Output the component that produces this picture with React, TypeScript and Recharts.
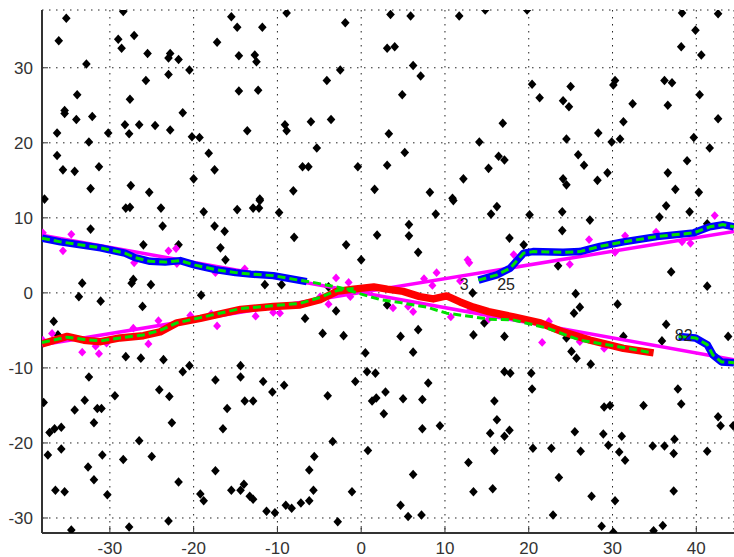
import React from "react";
import { CartesianGrid, Scatter, ScatterChart, Text, XAxis, YAxis } from "recharts";

type Pt = [number, number];

const xTicks = [-30, -20, -10, 0, 10, 20, 30, 40];
const yTicks = [-30, -20, -10, 0, 10, 20, 30];

// black clutter points
const clutter: Pt[] = [
  [-35.2, 36.6], [-36.1, 33.6], [-32.8, 30.5], [-33.9, 26.4], [-35.4, 24.3], [-35.4, 23.9], [-34.0, 23.1], [-32.1, 23.5],
  [-36.3, 21.3], [-32.5, 20.1], [-36.3, 18.3], [-35.6, 16.4], [-34.2, 16.2], [-31.3, 16.8], [-32.3, 13.9], [-37.8, 12.5],
  [-28.4, 37.5], [-29.0, 33.8], [-28.6, 32.6], [-27.1, 34.3], [-25.5, 31.9], [-23.0, 31.3], [-22.8, 31.9], [-21.8, 31.1],
  [-23.0, 29.1], [-25.7, 28.3], [-20.5, 29.7], [-27.6, 25.8], [-21.3, 24.0], [-28.2, 22.4], [-27.7, 21.2], [-26.5, 22.4],
  [-24.6, 22.3], [-22.8, 21.7], [-30.2, 21.3], [-20.2, 20.8], [-19.3, 20.7], [-27.5, 14.3], [-25.3, 13.4], [-20.0, 15.2],
  [-18.2, 18.6], [-17.5, 16.4], [-17.2, 33.4], [-15.5, 36.8], [-14.8, 35.4], [-14.6, 31.6], [-14.6, 26.9], [-13.6, 21.6],
  [-11.8, 35.4], [-12.7, 31.7], [-12.5, 30.8], [-12.3, 27.0], [-8.9, 37.3], [-1.9, 36.0], [-2.5, 29.7], [-4.1, 28.3],
  [-9.1, 22.4], [-8.9, 21.6], [-6.0, 22.8], [-3.6, 23.1], [-5.3, 19.3], [-7.0, 16.8], [-6.3, 16.8], [-0.4, 16.8],
  [-8.1, 13.6], [-12.1, 12.5], [3.5, 37.1], [5.9, 36.9], [3.1, 32.6], [4.0, 32.8], [6.2, 30.3], [7.1, 28.9],
  [4.9, 26.4], [3.3, 21.2], [5.2, 18.7], [3.1, 17.0], [1.6, 13.8], [8.2, 13.4], [11.7, 36.9], [14.8, 37.7],
  [14.1, 20.1], [15.2, 16.6], [12.2, 15.2], [10.9, 12.6], [19.8, 37.7], [38.3, 37.3], [42.6, 37.2], [39.9, 35.0],
  [38.2, 32.8], [40.6, 31.7], [20.4, 27.8], [21.3, 26.0], [25.0, 27.5], [24.1, 25.6], [24.8, 24.8], [30.3, 28.3],
  [30.1, 27.7], [36.2, 28.3], [37.1, 28.0], [32.4, 25.2], [36.6, 25.0], [40.4, 26.4], [31.3, 22.8], [42.6, 23.2],
  [16.9, 22.6], [28.3, 21.3], [24.5, 20.5], [29.9, 20.1], [30.9, 20.5], [39.7, 20.7], [41.6, 19.3], [16.4, 18.2],
  [17.1, 17.7], [25.9, 18.4], [26.6, 17.0], [24.1, 15.2], [24.5, 14.4], [28.2, 15.0], [29.4, 16.0], [36.6, 16.0],
  [38.9, 17.6], [37.5, 13.8], [40.3, 13.4],
  [-32.3, 8.5], [-28.1, 11.3], [-27.6, 11.4], [-23.9, 11.3], [-23.7, 8.9], [-18.8, 10.8], [-17.5, 8.9], [-16.3, 8.2],
  [-16.8, 6.0], [-16.2, 4.4], [-14.8, 11.1], [-26.0, 6.4], [-21.8, 6.4], [-27.2, 1.8], [-27.4, 1.3], [-25.1, 1.1],
  [-33.3, 1.3], [-33.7, -0.5], [-31.1, -1.1], [-26.1, -1.8], [-19.1, -0.3], [-36.7, -3.8], [-36.2, -5.6], [-28.1, -8.5],
  [-26.3, -8.7], [-23.6, -8.9], [-20.5, -9.7], [-21.3, -10.5], [-32.5, -11.2], [-24.1, -12.9], [-22.9, -13.8], [-29.4, -13.7],
  [-17.4, -11.6], [-14.4, -9.7], [-14.4, -11.2], [-33.0, -14.3],
  [-37.9, -14.6], [-34.2, -15.6], [-31.5, -15.4], [-31.0, -15.4], [-31.9, -17.3], [-37.2, -18.6], [-36.6, -18.1], [-35.8, -17.9],
  [-35.8, -20.8], [-37.4, -21.6], [-30.9, -21.6], [-32.6, -23.2], [-28.4, -22.2], [-26.5, -19.7], [-25.0, -21.8], [-31.9, -24.9],
  [-36.5, -26.3], [-35.4, -26.5], [-30.3, -26.9], [-21.8, -25.2], [-34.6, -31.6], [-27.7, -31.2], [-23.0, -30.4], [-22.6, -17.3],
  [-13.9, -14.4], [-16.0, -15.4], [-16.5, -18.1], [-17.4, -23.7], [-19.2, -26.8], [-18.8, -27.7], [-15.5, -26.3], [-14.4, -26.3],
  [-14.0, -25.5], [-13.3, -27.1],
  [-12.9, 11.3], [-12.2, 11.3], [-12.1, 12.3], [-9.8, 10.7], [-8.0, 7.4], [-1.8, 6.4], [0.0, 4.4], [1.9, 7.7],
  [5.7, 9.1], [5.7, 7.6], [6.8, 5.4], [8.9, 10.5], [11.0, 12.3], [-11.5, 1.1], [-9.5, 1.1], [-3.9, 0.8],
  [-6.7, -3.4], [-3.0, -2.4], [-4.6, -5.4], [-2.1, -5.7], [3.1, -1.6], [6.8, -4.9], [4.7, -5.8], [6.2, -7.9],
  [0.5, -8.0], [13.3, 0.0], [14.7, -4.0], [13.4, -5.6], [-11.7, -11.8], [-10.6, -13.2], [-9.2, -12.3], [-4.0, -13.7],
  [-0.7, -11.8], [0.7, -10.5], [1.7, -10.7], [2.9, -13.2], [1.8, -14.0], [8.0, -12.0], [5.0, -14.1],
  [-12.9, -14.4], [-3.4, -19.8], [-12.9, -27.5], [-11.3, -29.1], [-10.3, -29.3], [-9.0, -28.3], [-8.3, -28.7], [-7.2, -28.0],
  [-6.2, -27.7], [-5.7, -26.3], [-6.2, -23.6], [-5.6, -21.8], [-2.8, -30.5], [-1.1, -26.5], [0.8, -21.0], [1.3, -14.4],
  [2.7, -16.1], [7.3, -14.2], [7.3, -18.1], [9.4, -17.7], [6.2, -24.2], [4.7, -28.3], [5.6, -29.8], [7.2, -29.6],
  [12.8, -22.6], [13.4, -26.5], [15.4, -18.7],
  [20.4, -12.8], [15.9, -14.4], [16.2, -16.9], [17.1, -19.1], [17.7, -18.3], [15.9, -21.0], [15.7, -26.1], [20.5, -20.7],
  [22.7, -20.7], [25.5, -18.5], [26.2, -21.1], [23.6, -24.6], [22.9, -29.6], [27.5, -27.1], [29.0, -15.2], [29.7, -15.0],
  [28.9, -18.8], [29.5, -20.3], [31.1, -19.1], [30.8, -21.2], [31.5, -22.3], [30.3, -27.7], [28.7, -31.1], [30.1, -31.9],
  [33.7, -15.0], [37.8, -12.8], [38.2, -14.8], [34.8, -20.4], [36.2, -20.4], [37.4, -19.5], [37.3, -21.4], [37.3, -26.4],
  [36.0, -31.0], [34.9, -31.7], [42.6, -16.5], [42.9, -17.7], [41.3, -21.1], [44.4, -17.7],
  [15.5, 10.5], [16.2, 11.5], [20.1, 10.4], [24.0, 10.8], [24.0, 8.3], [27.3, 9.7], [36.4, 11.6], [35.6, 10.1],
  [39.2, 10.8], [41.3, 9.2], [17.7, 7.3], [19.4, 6.4], [23.5, 3.6], [37.0, 2.8], [41.3, 0.9], [25.6, -0.1],
  [26.1, -1.9], [25.4, -2.7], [30.6, -1.5], [17.1, -5.8], [24.5, -6.0], [25.1, -7.8], [25.7, -8.7], [27.4, -9.5],
  [31.3, -5.8], [35.9, -6.4], [36.4, -4.2], [43.8, -5.8], [17.1, -10.5], [17.8, -10.7], [20.3, -10.7],
];

// magenta detections near the tracks
const detections: Pt[] = [
  [-38.0, 8.0], [-34.6, 7.8], [-35.6, 5.6], [-27.1, 4.0], [-22.1, 5.9], [-23.0, 5.6], [-22.0, 3.9], [-17.4, 2.7], [-13.9, 3.2],
  [-38.0, -6.3], [-36.9, -5.4], [-33.3, -7.9], [-31.3, -8.1], [-31.7, -7.1], [-30.4, -6.7], [-24.2, -3.7], [-25.4, -6.8],
  [-27.2, -4.7], [-20.4, -3.0], [-17.2, -4.4], [-17.9, -2.8],
  [-3.0, 2.0], [-1.5, 1.4], [9.0, 2.7], [12.7, 4.4], [12.9, 4.0], [7.5, 1.9], [8.5, 1.0], [11.8, 1.6],
  [-9.7, -2.7], [-10.5, -2.6], [-12.6, -3.1], [-3.9, -1.5], [-4.9, -0.5], [-1.3, -0.5], [3.8, -2.0], [6.2, -2.5],
  [5.6, -1.8], [10.7, -3.2], [13.0, -2.3], [15.2, -3.5],
  [18.2, 5.1], [24.9, 3.8], [27.2, 7.1], [30.3, 5.4], [31.5, 7.6], [35.2, 8.1], [38.3, 6.8], [39.3, 6.6], [42.2, 10.3],
  [22.4, -3.8], [21.6, -6.6], [29.0, -7.4], [26.1, -6.5],
];

// true target paths (magenta)
const truthDown: Pt[] = [[-38.1, 7.7], [44.5, -8.9]];
const truthUp: Pt[] = [[-38.1, -6.9], [44.5, 8.2]];

// estimated tracks
const blueLeft: Pt[] = [
  [-38.1, 7.3], [-35.9, 6.8], [-34.1, 6.5], [-31.1, 6.0], [-28.2, 5.3], [-27.0, 4.7], [-25.2, 4.2], [-23.4, 4.1],
  [-21.6, 4.3], [-19.8, 3.7], [-17.4, 3.1], [-15.0, 2.7], [-13.2, 2.5], [-10.5, 2.3], [-8.0, 1.8], [-6.5, 1.5],
];
const greenDown: Pt[] = [
  [-38.1, 7.3], [-35.9, 6.8], [-34.1, 6.5], [-31.1, 6.0], [-28.2, 5.3], [-27.0, 4.7], [-25.2, 4.2], [-23.4, 4.1],
  [-21.6, 4.3], [-19.8, 3.7], [-17.4, 3.1], [-15.0, 2.7], [-13.2, 2.5], [-10.5, 2.3], [-8.0, 1.8], [-5.3, 1.3],
  [-2.5, 0.7], [-0.5, 0.0], [2.3, -0.9], [4.7, -1.3], [7.8, -1.9], [10.2, -2.7], [13.4, -3.2], [15.2, -3.5],
  [18.1, -3.6], [22.2, -4.7], [26.1, -6.3], [30.9, -7.2], [34.8, -8.0],
];
const redTrack: Pt[] = [
  [-38.1, -6.8], [-35.1, -5.8], [-33.1, -6.3], [-31.1, -6.5], [-28.8, -6.0], [-26.0, -5.7], [-24.0, -5.2], [-22.0, -4.0],
  [-19.2, -3.4], [-17.2, -2.9], [-14.4, -2.2], [-10.5, -1.8], [-7.3, -1.6], [-4.9, -0.9], [-2.9, 0.2], [-0.9, 0.5],
  [1.5, 0.8], [3.1, 0.5], [5.0, 0.2], [7.0, -0.5], [8.6, -0.8], [10.2, -0.4], [11.8, -1.2], [13.4, -1.9],
  [15.2, -2.5], [18.2, -3.2], [21.4, -4.0], [24.1, -5.2], [27.3, -6.3], [31.3, -7.4], [34.9, -8.0],
];
const greenUpLeft: Pt[] = [
  [-38.1, -6.6], [-35.1, -5.9], [-33.1, -6.2], [-31.1, -6.4], [-28.8, -6.0], [-26.0, -5.6], [-24.0, -5.0], [-22.0, -4.0],
  [-19.2, -3.3], [-17.2, -2.8], [-14.4, -2.1], [-10.5, -1.7], [-7.3, -1.4], [-4.9, -0.6], [-2.9, 0.3], [-0.9, 0.6],
];
const blueRight: Pt[] = [
  [14.0, 1.7], [16.2, 2.4], [17.8, 3.3], [19.4, 5.3], [20.5, 5.5], [24.1, 5.4], [26.1, 5.5], [28.5, 6.2],
  [31.3, 6.8], [35.3, 7.5], [39.7, 8.0], [41.6, 8.8], [43.2, 9.1], [44.5, 8.8],
];
const blueLowRight: Pt[] = [
  [37.9, -5.8], [39.9, -6.0], [41.3, -6.9], [42.0, -8.3], [43.0, -9.2], [44.5, -9.3],
];

const labels: { x: number; y: number; text: string }[] = [
  { x: 12.3, y: 1.2, text: "3" },
  { x: 17.3, y: 1.1, text: "25" },
  { x: 38.5, y: -5.7, text: "82" },
];

const toXY = (pts: Pt[]) => pts.map(([x, y]) => ({ x, y }));

const diamond = (fill: string, hw: number, hh: number) => (props: any) => {
  const { cx, cy } = props;
  if (cx == null || cy == null) return <g />;
  return (
    <path
      d={`M${cx},${cy - hh}L${cx + hw},${cy}L${cx},${cy + hh}L${cx - hw},${cy}Z`}
      fill={fill}
    />
  );
};

const noShape = () => <g />;

const labelShape = (props: any) => {
  const { cx, cy, payload } = props;
  return (
    <Text x={cx} y={cy} textAnchor="middle" verticalAnchor="middle" fontSize={16} fill="#222">
      {payload.text}
    </Text>
  );
};

const track = (pts: Pt[], stroke: string, width: number, dash?: string) => (
  <Scatter
    data={toXY(pts)}
    fill={stroke}
    line={{ stroke, strokeWidth: width, strokeDasharray: dash, strokeLinejoin: "round", strokeLinecap: "butt" }}
    shape={noShape}
    isAnimationActive={false}
  />
);

export default function App() {
  return (
    <div style={{ position: "absolute", left: 0, top: 0, background: "#fff" }}>
      <ScatterChart
        width={734}
        height={557}
        margin={{ top: 10, right: 0, bottom: 0, left: 0 }}
        style={{ fontFamily: "'Liberation Sans', Arial, sans-serif" }}
      >
        <CartesianGrid stroke="#222" strokeDasharray="1.5 5.5" />
        <XAxis
          type="number"
          dataKey="x"
          domain={[-38.1, 44.5]}
          ticks={xTicks}
          allowDataOverflow
          height={24}
          axisLine={{ stroke: "#333", strokeWidth: 2 }}
          tickLine={{ stroke: "#333" }}
          tickSize={-7}
          tickMargin={16}
          tick={{ fill: "#333", fontSize: 17 }}
        />
        <YAxis
          type="number"
          dataKey="y"
          domain={[-32, 37.7]}
          ticks={yTicks}
          allowDataOverflow
          width={42}
          axisLine={{ stroke: "#333", strokeWidth: 2 }}
          tickLine={{ stroke: "#333" }}
          tickSize={-6}
          tickMargin={15}
          tick={{ fill: "#333", fontSize: 17 }}
        />
        <Scatter data={toXY(clutter)} shape={diamond("#000", 4.3, 4.8)} isAnimationActive={false} />
        {track(truthDown, "#ff00ff", 3.5)}
        {track(truthUp, "#ff00ff", 3.5)}
        <Scatter data={toXY(detections)} shape={diamond("#ff00ff", 4, 4.4)} isAnimationActive={false} />
        {track(redTrack, "#ff0000", 7.5)}
        {track(blueLeft, "#0000ff", 7.5)}
        {track(blueRight, "#0000ff", 7.5)}
        {track(blueLowRight, "#0000ff", 7.5)}
        {track(greenDown, "#00e000", 3, "8 4")}
        {track(greenUpLeft, "#00e000", 3, "8 4")}
        {track(blueRight, "#00e000", 3, "8 4")}
        {track(blueLowRight, "#00e000", 3, "8 4")}
        <Scatter data={labels} shape={labelShape} isAnimationActive={false} />
      </ScatterChart>
    </div>
  );
}
